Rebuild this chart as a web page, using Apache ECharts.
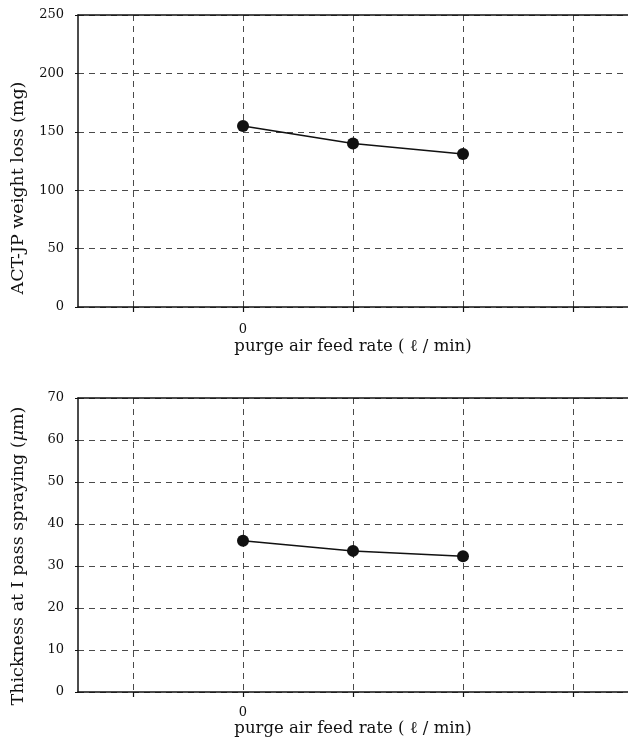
<!DOCTYPE html>
<html>
<head>
<meta charset="utf-8">
<script src="https://cdn.jsdelivr.net/npm/echarts@6/dist/echarts.min.js"></script>
<style>
  html, body { margin: 0; padding: 0; background: #fff; }
  #chart { width: 628px; height: 747px; }
</style>
</head>
<body>
<div id="chart"></div>
<script>
// Purge air feed rate categories (only the zero position is labelled)
const rateLabels = ['', '0', '', '', ''];
// ACT-JP weight loss (mg) for each feed rate
const weightLoss = [null, 155, 140, 131, null];
// Coating thickness after a single spray pass (µm)
const thickness = [null, 36, 33.6, 32.3, null];
// Y axis ranges and steps
const lossAxis = { min: 0, max: 250, step: 50 };
const thickAxis = { min: 0, max: 70, step: 10 };

const serif = '"DejaVu Serif", "Liberation Serif", serif';
const ink = '#111';
const gridDash = { color: '#4a4a4a', width: 1, type: [6, 5] };

function xAxisFor(gridIndex, labelMargin, nameGap) {
  return {
    type: 'category',
    gridIndex: gridIndex,
    data: rateLabels,
    boundaryGap: true,
    name: 'purge air feed rate ( \u2113 / min)',
    nameLocation: 'middle',
    nameGap: nameGap,
    nameTextStyle: { fontFamily: serif, fontSize: 16.5, color: ink },
    axisLine: { lineStyle: { color: ink, width: 1.5 } },
    axisTick: { show: true, alignWithLabel: true, length: 5, lineStyle: { color: ink, width: 1.2 } },
    axisLabel: { margin: labelMargin, fontFamily: serif, fontSize: 13, color: ink, interval: 0 },
    splitLine: { show: true, alignWithLabel: true, lineStyle: gridDash }
  };
}

// plain top frame line for each panel
function topFrame(gridIndex) {
  return {
    type: 'category',
    gridIndex: gridIndex,
    position: 'top',
    data: rateLabels,
    axisLine: { show: true, lineStyle: { color: ink, width: 1.5 } },
    axisTick: { show: false },
    axisLabel: { show: false },
    splitLine: { show: false }
  };
}

function yAxisFor(gridIndex, range, name, padRight) {
  return {
    type: 'value',
    gridIndex: gridIndex,
    min: range.min,
    max: range.max,
    interval: range.step,
    name: name,
    nameLocation: 'middle',
    nameGap: 51,
    nameTextStyle: {
      fontFamily: serif, fontSize: 17.5, color: ink, padding: [0, padRight, 0, 0],
      rich: { it: { fontFamily: serif, fontSize: 17.5, fontStyle: 'italic', color: ink } }
    },
    axisLine: { show: true, lineStyle: { color: ink, width: 1.5 } },
    axisTick: { show: true, length: 3, lineStyle: { color: ink } },
    axisLabel: { margin: 14, fontFamily: serif, fontSize: 13, color: ink },
    splitLine: { show: true, lineStyle: gridDash }
  };
}

const chart = echarts.init(document.getElementById('chart'), null, { renderer: 'canvas' });
chart.setOption({
  backgroundColor: '#fff',
  animation: false,
  grid: [
    { left: 78, top: 15, right: 0, height: 292 },
    { left: 78, top: 398, right: 0, height: 294 }
  ],
  xAxis: [xAxisFor(0, 16, 31), xAxisFor(1, 14, 26), topFrame(0), topFrame(1)],
  yAxis: [
    yAxisFor(0, lossAxis, 'ACT-JP weight loss (mg)', 54),
    yAxisFor(1, thickAxis, 'Thickness at I pass spraying ({it|\u03bc}m)', 22)
  ],
  series: [
    {
      type: 'line', xAxisIndex: 0, yAxisIndex: 0, data: weightLoss,
      symbol: 'circle', symbolSize: 12, connectNulls: false,
      lineStyle: { color: ink, width: 1.5 }, itemStyle: { color: ink }
    },
    {
      type: 'line', xAxisIndex: 1, yAxisIndex: 1, data: thickness,
      symbol: 'circle', symbolSize: 12, connectNulls: false,
      lineStyle: { color: ink, width: 1.5 }, itemStyle: { color: ink }
    }
  ]
});
</script>
</body>
</html>
